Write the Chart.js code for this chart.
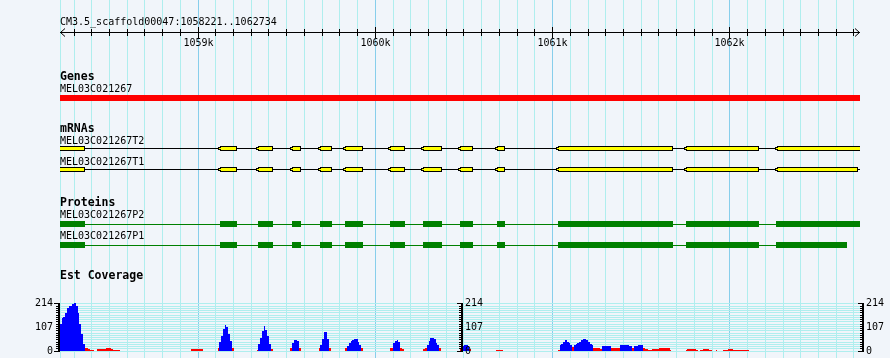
<!DOCTYPE html>
<html>
<head>
<meta charset="utf-8">
<title>MEL03C021267 - CM3.5_scaffold00047</title>
<script src="https://cdn.jsdelivr.net/npm/chart.js@4.4.1/dist/chart.umd.min.js"></script>
<style>
html, body { margin: 0; padding: 0; background: #f1f5fa; overflow: hidden; }
canvas { display: block; }
</style>
</head>
<body>
<canvas id="chart" width="890" height="358"></canvas>
<script>
// ---------------- data ----------------
const refSeq = 'CM3.5_scaffold00047';
const viewStart = 1058221;
const viewEnd = 1062734;
const rulerLabelTicks = [1059000, 1060000, 1061000, 1062000];

const geneName = 'MEL03C021267';
const geneSpan = [1058150, 1062800];

const mrnaNames = ['MEL03C021267T2', 'MEL03C021267T1'];
const proteinNames = ['MEL03C021267P2', 'MEL03C021267P1'];

// internal exons shared by both transcripts / proteins (bp)
const sharedExons = [
  [1059121, 1059218], [1059337, 1059421], [1059528, 1059581], [1059685, 1059754],
  [1059831, 1059933], [1060085, 1060165], [1060271, 1060375], [1060479, 1060550],
  [1060688, 1060729], [1061033, 1061677], [1061754, 1062167]
];
const t2Exons = [[1058150, 1058362], ...sharedExons, [1062264, 1062800]];
const t1Exons = [[1058150, 1058362], ...sharedExons, [1062264, 1062720]];
const p2Cds   = [[1058150, 1058364], ...sharedExons, [1062262, 1062800]];
const p1Cds   = [[1058150, 1058364], ...sharedExons, [1062262, 1062660]];
const t2Span = [1058150, 1062800];
const t1Span = [1058150, 1062800];
const p2Span = [1058150, 1062800];
const p1Span = [1058150, 1062660];

// EST coverage: runs of 10 bp bins (start bp, values)
const covBin = 10;
const covRunStart = [1058220, 1058430, 1058960, 1059110, 1059330, 1059520, 1059680, 1059830,
                     1060080, 1060270, 1060480, 1060680, 1061030, 1061750, 1061830, 1061920, 1061960];
const covRunValues = [
  [120, 147, 150, 170, 192, 200, 202, 210, 214, 200, 170, 122, 74, 32, 15, 12, 8, 6, 5],
  [8, 8, 8, 8, 10, 15, 15, 13, 11, 5, 5, 5, 5],
  [7, 8, 8, 8, 8, 8, 7],
  [12, 40, 66, 96, 118, 105, 75, 44, 15],
  [5, 30, 60, 90, 110, 95, 65, 30, 10],
  [15, 35, 47, 47, 45, 15],
  [12, 25, 55, 85, 84, 52, 15],
  [12, 22, 35, 45, 50, 55, 55, 38, 25, 12],
  [12, 15, 35, 45, 47, 38, 14, 8],
  [10, 15, 28, 45, 56, 56, 52, 37, 25, 14],
  [10, 22, 27, 27, 22, 10],
  [3, 3, 3, 3],
  [6, 25, 33, 42, 47, 40, 34, 27, 16, 27, 30, 37, 42, 47, 52, 53, 48, 40, 32, 27,
   14, 13, 12, 13, 11, 22, 22, 22, 23, 22, 14, 14, 13, 14, 14, 27, 27, 28, 27, 26,
   23, 23, 14, 22, 22, 27, 27, 25, 14, 11, 11, 4, 4, 11, 11, 11, 11, 15, 15, 15,
   15, 15, 14, 4],
  [4, 11, 11, 11, 11, 11, 4],
  [4, 4, 7, 7, 7, 4, 4],
  [4],
  [4, 4, 4, 10, 10, 10, 3, 3, 3, 3, 3, 3, 3, 3, 3]
];
const covScaleMax = 214;
const covScaleLabels = [0, 107, 214];
const covPivot = 18;           // bars above the pivot are blue, below red

// ---------------- layout & style ----------------
const CANVAS_H = 358;
const PAD_LEFT = 60, PAD_RIGHT = 30;
const RULER_Y = 32;
const COV_TOP_PX = 303, COV_ZERO_PX = 351;
const LANE_COUNT = 119;
const laneOf = { gene: 32, T2: 49, T1: 56, P2: 74, P1: 81 };
const lanes = Array.from({ length: LANE_COUNT }, (_, i) => 'lane' + i);
Object.entries(laneOf).forEach(([k, i]) => { lanes[i] = k; });

const COL = {
  bg: '#f1f5fa', gridMinor: '#afeeee', gridMajor: '#87ceeb',
  gene: '#ff0000', exon: '#ffff00', cds: '#008000', ink: '#000000',
  pos: '#0000ff', neg: '#ff0000'
};
const FONT_SMALL = '10px "DejaVu Sans Mono"';
const FONT_BOLD = 'bold 11.5px "DejaVu Sans Mono"';

// coverage axis range so that 0..214 sits in its band of the plot
const covUnitsPerPx = covScaleMax / (COV_ZERO_PX - COV_TOP_PX);
const covMin = -(CANVAS_H - COV_ZERO_PX) * covUnitsPerPx;
const covMax = covMin + CANVAS_H * covUnitsPerPx;
const covGridTicks = [];
for (let v = 0; v < covScaleMax; v += 10) covGridTicks.push(v);
covGridTicks.push(covScaleMax);

const xGridTicks = [viewStart];
for (let v = Math.ceil(viewStart / 100) * 100; v <= viewEnd; v += 100) xGridTicks.push(v);

// ---------------- datasets ----------------
const covPoints = [];
covRunStart.forEach((s, r) => covRunValues[r].forEach((v, i) => covPoints.push({ x: s + i * covBin + covBin / 2, y: v })));

const hbar = extra => Object.assign({
  type: 'bar', indexAxis: 'y', xAxisID: 'x', yAxisID: 'yT',
  grouped: false, inflateAmount: 0, borderSkipped: false, borderWidth: 0
}, extra);
const rows = (list, lane) => list.map(e => ({ x: e, y: lane }));

const datasets = [
  hbar({ label: 'Genes', data: [{ x: geneSpan, y: 'gene' }], backgroundColor: COL.gene, barThickness: 6, order: 1 }),
  hbar({ label: 'mRNA exons', data: [...rows(t2Exons, 'T2'), ...rows(t1Exons, 'T1')],
         backgroundColor: COL.exon, borderColor: COL.ink, borderWidth: 1, barThickness: 5, order: 1 }),
  hbar({ label: 'mRNA introns', data: [{ x: t2Span, y: 'T2' }, { x: t1Span, y: 'T1' }],
         backgroundColor: COL.ink, barThickness: 1, order: 2 }),
  hbar({ label: 'Protein CDS', data: [...rows(p2Cds, 'P2'), ...rows(p1Cds, 'P1')],
         backgroundColor: COL.cds, barThickness: 6, order: 1 }),
  hbar({ label: 'Protein introns', data: [{ x: p2Span, y: 'P2' }, { x: p1Span, y: 'P1' }],
         backgroundColor: COL.cds, barThickness: 1, order: 2 }),
  {
    type: 'bar', label: 'Est Coverage', xAxisID: 'xC', yAxisID: 'yC', data: covPoints,
    backgroundColor: c => (c.raw && c.raw.y > covPivot) ? COL.pos : COL.neg,
    barPercentage: 1, categoryPercentage: 1, grouped: false, inflateAmount: 0, borderWidth: 0, order: 3
  }
];
const MRNA_EXON_DATASET = 1;

// ---------------- plugins ----------------
const bgPlugin = {
  id: 'bg',
  beforeDraw(chart) {
    const c = chart.ctx;
    c.save(); c.fillStyle = COL.bg; c.fillRect(0, 0, chart.width, chart.height); c.restore();
  }
};

// snap bar edges to whole pixels so the glyphs stay crisp
const snapPlugin = {
  id: 'snap',
  beforeDatasetsDraw(chart) {
    chart.getSortedVisibleDatasetMetas().forEach(meta => {
      if (meta.type !== 'bar') return;
      meta.data.forEach(el => {
        if (el.horizontal) {
          const h = el.height;
          el.y = Math.round(el.y - h / 2) + h / 2;
          const a = Math.round(Math.min(el.x, el.base)), b = Math.round(Math.max(el.x, el.base));
          el.base = a; el.x = b;
        } else {
          const l = Math.round(el.x - el.width / 2), r = Math.round(el.x + el.width / 2);
          el.x = (l + r) / 2; el.width = r - l;
          el.y = Math.round(el.y); el.base = Math.round(el.base);
        }
      });
    });
  }
};

const crisp = p => Math.round(p - 0.5) + 0.5;

const annotPlugin = {
  id: 'annot',
  afterDatasetsDraw(chart) {
    const ctx = chart.ctx;
    const area = chart.chartArea;
    const xs = chart.scales.x, yT = chart.scales.yT, yC = chart.scales.yC;
    const lane = k => yT.getPixelForValue(k);
    ctx.save();

    // small tapered nub at the left end of every mRNA exon
    chart.getDatasetMeta(MRNA_EXON_DATASET).data.forEach(el => {
      const left = Math.min(el.x, el.base);
      if (left <= area.left + 2) return;
      const top = el.y - el.height / 2;
      ctx.fillStyle = COL.ink; ctx.fillRect(left - 2, top + 1, 2, 3);
      ctx.fillStyle = COL.exon; ctx.fillRect(left - 1, top + 2, 2, 1);
    });

    ctx.fillStyle = COL.ink; ctx.strokeStyle = COL.ink; ctx.lineWidth = 1;
    ctx.textBaseline = 'alphabetic'; ctx.textAlign = 'left';

    // title of the region
    ctx.font = FONT_SMALL;
    ctx.fillText(refSeq + ':' + viewStart + '..' + viewEnd, xs.left, 25);

    // ruler
    const ry = RULER_Y + 0.5;
    ctx.beginPath();
    ctx.moveTo(xs.left, ry); ctx.lineTo(xs.right, ry);
    for (let v = Math.ceil(viewStart / 100) * 100; v <= viewEnd; v += 100) {
      const px = crisp(xs.getPixelForValue(v));
      const major = v % 1000 === 0;
      ctx.moveTo(px, RULER_Y - (major ? 5 : 3));
      ctx.lineTo(px, RULER_Y + (major ? 6 : 4));
    }
    ctx.moveTo(xs.left + 5, ry - 4); ctx.lineTo(xs.left + 0.5, ry); ctx.lineTo(xs.left + 5, ry + 4);
    ctx.moveTo(xs.right - 5, ry - 4); ctx.lineTo(xs.right - 0.5, ry); ctx.lineTo(xs.right - 5, ry + 4);
    ctx.stroke();
    ctx.textAlign = 'center';
    rulerLabelTicks.forEach(v => ctx.fillText((v / 1000) + 'k', crisp(xs.getPixelForValue(v)), RULER_Y + 14));

    // track titles and feature names
    ctx.textAlign = 'left';
    const put = (txt, font, y) => { ctx.font = font; ctx.fillText(txt, xs.left, Math.round(y)); };
    put('Genes', FONT_BOLD, lane('gene') - 18);
    put(geneName, FONT_SMALL, lane('gene') - 6);
    put('mRNAs', FONT_BOLD, lane('T2') - 17);
    put(mrnaNames[0], FONT_SMALL, lane('T2') - 5);
    put(mrnaNames[1], FONT_SMALL, lane('T1') - 5);
    put('Proteins', FONT_BOLD, lane('P2') - 18);
    put(proteinNames[0], FONT_SMALL, lane('P2') - 6);
    put(proteinNames[1], FONT_SMALL, lane('P1') - 6);
    put('Est Coverage', FONT_BOLD, yC.getPixelForValue(covScaleMax) - 24);

    // coverage scales (left, middle, right)
    const topRow = Math.round(yC.getPixelForValue(covScaleMax) - 0.5);
    const botRow = Math.round(yC.getPixelForValue(0) - 0.5);
    const axes = [
      { v: viewStart, dx: -2, labelSide: 'left' },
      { v: (viewStart + viewEnd) / 2, dx: 1, labelSide: 'right' },
      { v: viewEnd, dx: 2, labelSide: 'right' }
    ];
    ctx.font = FONT_SMALL; ctx.textBaseline = 'middle';
    axes.forEach(a => {
      const lx = Math.round(xs.getPixelForValue(a.v)) + a.dx;
      ctx.fillRect(lx, topRow, 2, botRow - topRow + 1);
      covGridTicks.forEach(v => {
        const r = Math.round(yC.getPixelForValue(v) - 0.5);
        const major = covScaleLabels.includes(v);
        const len = major ? 4 : 2;
        ctx.fillRect(lx - len, r, len, 1);
      });
      covScaleLabels.forEach(v => {
        const py = Math.round(yC.getPixelForValue(v)) + 0.5;
        if (a.labelSide === 'left') { ctx.textAlign = 'right'; ctx.fillText(String(v), lx - 5, py); }
        else { ctx.textAlign = 'left'; ctx.fillText(String(v), lx + 4, py); }
      });
    });
    ctx.restore();
  }
};

// ---------------- chart ----------------
new Chart(document.getElementById('chart'), {
  type: 'bar',
  data: { datasets },
  options: {
    responsive: false,
    animation: false,
    events: [],
    layout: { padding: { left: PAD_LEFT, right: PAD_RIGHT, top: 0, bottom: 0 } },
    plugins: { legend: { display: false }, tooltip: { enabled: false }, title: { display: false } },
    scales: {
      x: {
        type: 'linear', position: 'bottom', min: viewStart, max: viewEnd, offset: false,
        afterFit: s => { s.height = 0; },
        afterBuildTicks: s => { s.ticks = xGridTicks.map(v => ({ value: v })); },
        ticks: { display: false },
        border: { display: false },
        grid: {
          offset: false, drawTicks: false, lineWidth: 1,
          color: c => (c.tick && c.tick.value % 1000 === 0) ? COL.gridMajor : COL.gridMinor
        }
      },
      xC: { type: 'linear', min: viewStart, max: viewEnd, offset: false, display: false },
      yT: { type: 'category', labels: lanes, offset: true, display: false },
      yC: {
        type: 'linear', position: 'left', min: covMin, max: covMax, offset: false,
        afterFit: s => { s.width = 0; },
        afterBuildTicks: s => { s.ticks = covGridTicks.map(v => ({ value: v })); },
        ticks: { display: false },
        border: { display: false },
        grid: { offset: false, drawTicks: false, lineWidth: 1, color: COL.gridMinor }
      }
    }
  },
  plugins: [bgPlugin, snapPlugin, annotPlugin]
});
</script>
</body>
</html>
